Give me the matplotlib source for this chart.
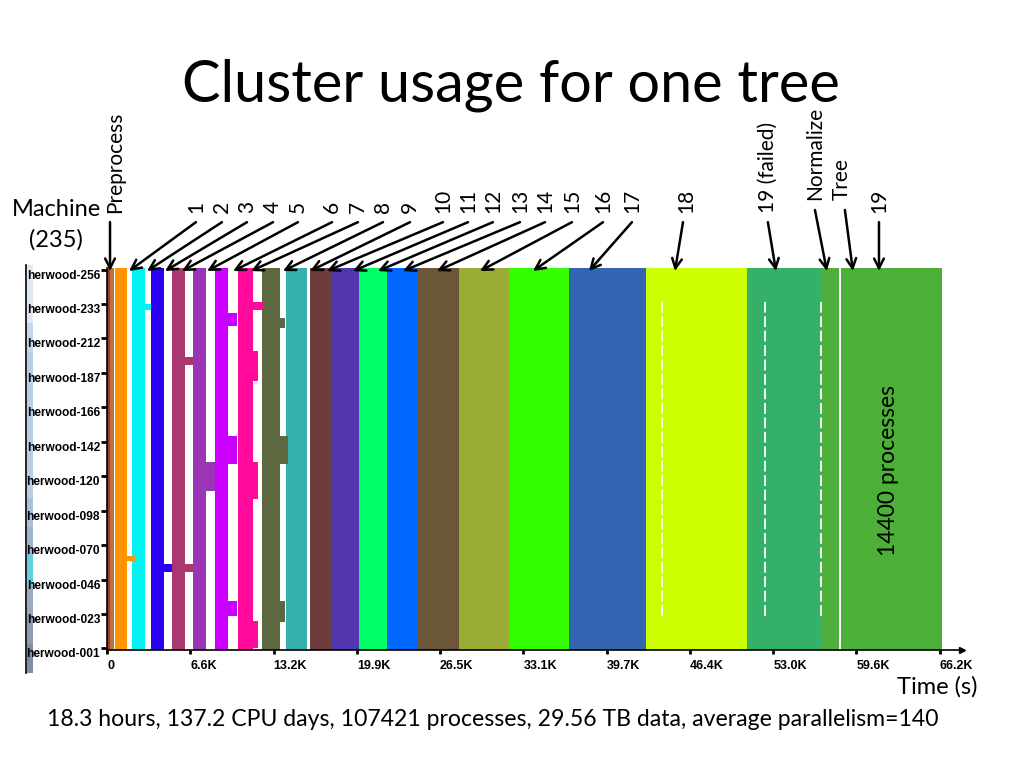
import matplotlib.pyplot as plt
import numpy as np
from matplotlib.lines import Line2D

plt.rcParams['font.family'] = ['Lato', 'DejaVu Sans']

# stage spans on the cluster, in thousands of seconds
stage_names = ['Preprocess', 'Preprocess', '1', '2', '3', '4', '5', '6', '7', '8', '9',
               '10', '11', '12', '13', '14', '15', '16', '17', '18',
               '19 (failed)', 'Normalize', 'Tree', '19']
stage_start = [0.0, 0.24, 0.60, 1.99, 3.50, 5.17, 6.84, 8.59, 10.41, 12.32, 14.23,
               16.14, 17.89, 20.03, 22.26, 24.72, 27.98, 31.96, 36.72, 42.85,
               50.87, 56.84, 58.35, 58.90]
stage_end = [0.24, 0.56, 1.59, 3.02, 4.53, 6.20, 7.87, 9.62, 11.60, 13.75, 15.90,
             17.89, 20.03, 22.26, 24.72, 27.98, 31.96, 36.72, 42.85, 50.87,
             56.84, 58.19, 58.90, 66.38]
stage_colors = ['#a33b2c', '#b8743a', '#ff9500', '#00f2f2', '#2a00f0', '#a8386f',
                '#9a35b5', '#cc00ff', '#ff0a9a', '#5e6840', '#36afaf', '#6e3c3c',
                '#5236ad', '#00ff66', '#0066ff', '#6b5637', '#9aac35', '#33ff00',
                '#3465b3', '#ccff00', '#34b068', '#4faf3c', '#4cb038', '#4cb038']

# machines that ran a stage longer than the rest (stage index, machine range, end)
long_stage = [2, 3, 4, 5, 5, 6, 7, 7, 7, 8, 8, 8, 8, 9, 9, 9]
long_lo = [54, 209, 47, 175, 47, 97, 199, 114, 20, 209, 165, 92, 0, 198, 114, 16]
long_hi = [56, 212, 51, 179, 51, 114, 206, 130, 28, 213, 183, 114, 16, 203, 130, 28]
long_end = [2.23, 3.50, 5.17, 6.84, 6.84, 8.59, 10.33, 10.33, 10.33,
            12.40, 12.00, 12.00, 12.00, 14.15, 14.40, 14.15]

# idle streaks inside the long stages
gap_times = [44.1, 52.3, 56.8]

n_machines = 235
machine_labels = ['herwood-001', 'herwood-023', 'herwood-046', 'herwood-070',
                  'herwood-098', 'herwood-120', 'herwood-142', 'herwood-166',
                  'herwood-187', 'herwood-212', 'herwood-233', 'herwood-256']
time_ticks = [0, 6.62, 13.24, 19.86, 26.48, 33.1, 39.72, 46.34, 52.96, 59.58, 66.2]
time_labels = ['0', '6.6K', '13.2K', '19.9K', '26.5K', '33.1K', '39.7K',
               '46.4K', '53.0K', '59.6K', '66.2K']

# arrow annotations above the plot
arrow_text = ['Preprocess', '1', '2', '3', '4', '5', '6', '7', '8', '9', '10', '11',
              '12', '13', '14', '15', '16', '17', '18', '19 (failed)', 'Normalize',
              'Tree', '19']
text_x = [0.64, 7.07, 9.14, 11.13, 13.20, 15.18, 17.89, 19.95, 21.94, 24.09, 26.71,
          28.70, 30.68, 32.83, 34.82, 36.96, 39.43, 41.73, 46.03, 52.54, 56.28,
          58.43, 61.37]
tail_x = [0.24, 7.07, 9.14, 11.13, 13.20, 15.18, 17.89, 19.95, 21.94, 24.09, 26.71,
          28.70, 30.68, 32.83, 34.82, 36.96, 39.43, 41.73, 45.79, 52.54, 56.28,
          58.66, 61.37]
head_x = [0.24, 1.75, 3.18, 4.61, 5.96, 7.95, 10.02, 11.45, 13.99, 16.14, 17.49,
          19.55, 21.54, 23.53, 26.23, 29.65, 33.86, 38.31, 45.15, 53.18, 57.23,
          59.30, 61.37]

fig = plt.figure(figsize=(10.24, 7.68), dpi=100)
ax = fig.add_axes([107 / 1024, 1 - 650 / 768, 855 / 1024, 382 / 768])

for s, e, c in zip(stage_start, stage_end, stage_colors):
    ax.broken_barh([(s, e - s)], (-1, n_machines + 1), facecolors=c)
for k, lo, hi, e in zip(long_stage, long_lo, long_hi, long_end):
    s = stage_start[k]
    ax.broken_barh([(s, e - s)], (lo, hi - lo + 1), facecolors=stage_colors[k])
ax.vlines(gap_times, 20, 215, colors='white', lw=1.3, linestyles=(0, (6, 2)))

ax.set_xlim(0, 67.97)
ax.set_ylim(-1, n_machines)
ax.spines['top'].set_visible(False)
ax.spines['right'].set_visible(False)
ax.spines['left'].set_linewidth(1.2)
ax.spines['bottom'].set_linewidth(1.2)
ax.plot(1, 0, marker='>', color='k', ms=5, transform=ax.transAxes, clip_on=False)

ax.set_yticks(np.linspace(0, n_machines - 1, len(machine_labels)))
ax.set_yticklabels(machine_labels, va='top', fontweight='bold', fontsize=8.6,
                   family=['Liberation Sans Narrow', 'Liberation Sans'])
ax.set_xticks(time_ticks)
ax.set_xticklabels(time_labels, ha='left', fontweight='bold', fontsize=9,
                   family=['Liberation Sans Narrow', 'Liberation Sans'])
ax.tick_params(axis='y', length=4, width=2, pad=1)
ax.tick_params(axis='x', length=3, width=2, pad=4)

for i, lab in enumerate(arrow_text):
    tall = lab in ('Normalize', 'Tree')
    ty = 1.152 if tall else 1.120
    by = 1.178 if tall else 1.144
    ax.annotate('', xy=(head_x[i], 0.992), xytext=(tail_x[i], ty),
                xycoords=('data', 'axes fraction'), textcoords=('data', 'axes fraction'),
                arrowprops=dict(arrowstyle='->,head_length=0.7,head_width=0.35',
                                lw=1.8, color='black', shrinkA=0, shrinkB=0),
                annotation_clip=False)
    ax.text(text_x[i], by, lab, rotation=90, ha='center', va='bottom', fontsize=15,
            transform=ax.get_xaxis_transform(), clip_on=False)

ax.text(62.1, 110, '14400 processes', rotation=90, ha='center', va='center', fontsize=16.5)

fig.text(0.499, 1 - 102 / 768, 'Cluster usage for one tree', ha='center',
         va='baseline', fontsize=41.5)
fig.text(56 / 1024, 1 - 210 / 768, 'Machine', ha='center', va='center', fontsize=17)
fig.text(56 / 1024, 1 - 240 / 768, '(235)', ha='center', va='center', fontsize=17)
fig.text(897 / 1024, 1 - 687 / 768, 'Time (s)', ha='left', va='center', fontsize=17)
fig.text(493 / 1024, 1 - 720 / 768,
         '18.3 hours, 137.2 CPU days, 107421 processes, 29.56 TB data, average parallelism=140',
         ha='center', va='center', fontsize=16.6)

# scrollbar strip at the far left, kept under the tick labels
sax = fig.add_axes([27 / 1024, 1 - 673 / 768, 6 / 1024, 408 / 768])
sax.set_zorder(-1)
strip = ['#dfe8f3', '#dfe8f3', '#c4d6ec', '#b9cde5', '#b9cde5', '#b9cde5', '#b9cde5',
         '#b9cde5', '#a8c0de', '#9fb4cf', '#5fd0e0', '#9aaac0', '#8d9cb2', '#7f8ea4']
sax.imshow(np.array([[c] for c in range(len(strip))]), aspect='auto',
           cmap=plt.matplotlib.colors.ListedColormap(strip))
sax.axis('off')
fig.add_artist(Line2D([26 / 1024, 26 / 1024], [1 - 673 / 768, 1 - 265 / 768],
                      color='black', lw=1.2))

fig.savefig('out.png', dpi=100)
